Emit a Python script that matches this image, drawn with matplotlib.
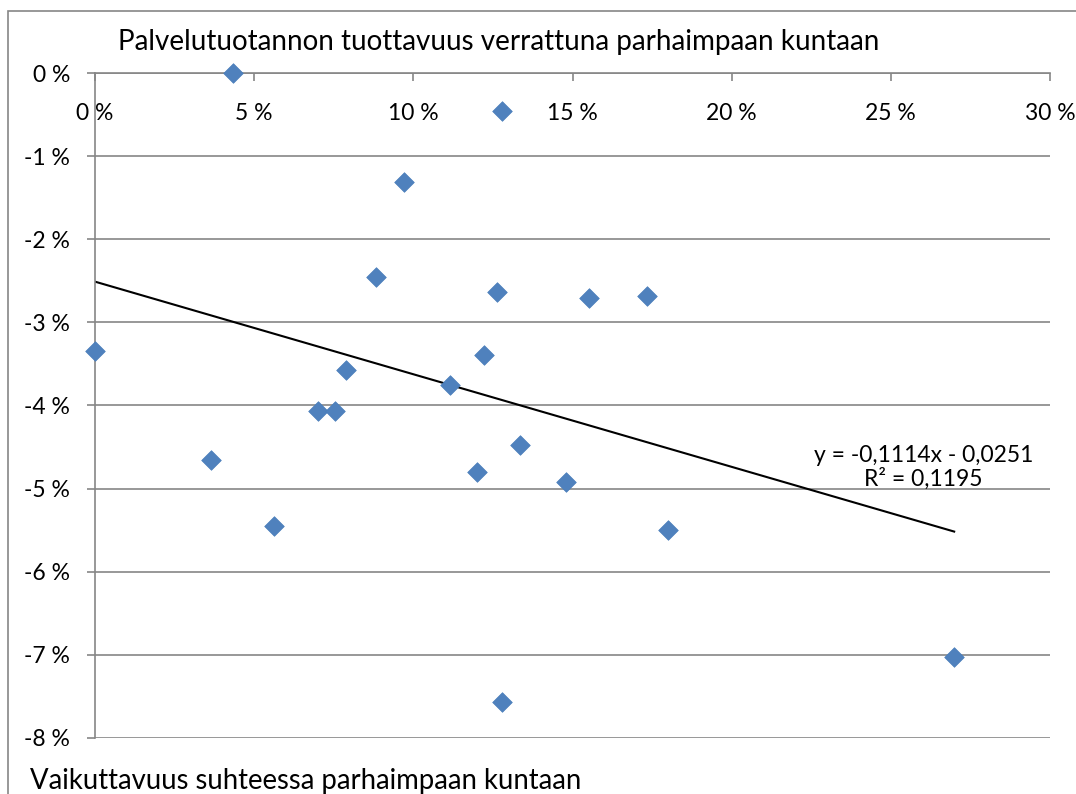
import matplotlib
matplotlib.use('Agg')
import matplotlib.pyplot as plt
import numpy as np
from matplotlib.patches import Rectangle
from matplotlib.ticker import FuncFormatter, MultipleLocator

plt.rcParams['font.family'] = ['Lato', 'DejaVu Sans']

TITLE = 'Palvelutuotannon tuottavuus verrattuna parhaimpaan kuntaan'
XLABEL = 'Vaikuttavuus suhteessa parhaimpaan kuntaan'

# effectiveness (x) and productivity (y), as fractions
vaikuttavuus = [0.0434, 0.1279, 0.0971, 0.0883, 0.1263, 0.1552, 0.1734,
                0.0000, 0.1222, 0.0789, 0.1115, 0.0700, 0.0754, 0.1335,
                0.0364, 0.1200, 0.1480, 0.0562, 0.1800, 0.2699, 0.1279]
tuottavuus = [0.0000, -0.0046, -0.0131, -0.0245, -0.0263, -0.0271, -0.0268,
              -0.0335, -0.0339, -0.0357, -0.0375, -0.0407, -0.0407, -0.0447,
              -0.0466, -0.0480, -0.0492, -0.0545, -0.0550, -0.0702, -0.0757]

# linear trend as reported by the spreadsheet
SLOPE = -0.1114
INTERCEPT = -0.0251
R2 = 0.1195

GRID = '#868686'
BLUE = '#4F81BD'

fig = plt.figure(figsize=(10.76, 7.94), dpi=100)
fig.add_artist(Rectangle((8 / 1076, -0.1), 2, 1 - 11 / 794 + 0.1,
                         transform=fig.transFigure, fill=False,
                         edgecolor=GRID, lw=1.2))
ax = fig.add_axes([95 / 1076, 56 / 794, 955 / 1076, 665 / 794])

ax.scatter(vaikuttavuus, tuottavuus, marker='D', s=100, color=BLUE,
           edgecolors='#4A7EBB', linewidths=0.5, zorder=3, clip_on=False)

xs = np.array([min(vaikuttavuus), max(vaikuttavuus)])
ax.plot(xs, SLOPE * xs + INTERCEPT, color='black', lw=1.5, zorder=2)
ax.text(0.2603, -0.0475,
        f'y = {SLOPE:.4f}x - {abs(INTERCEPT):.4f}'.replace('.', ',')
        + f'\nR² = {R2:.4f}'.replace('.', ','),
        ha='center', va='center', multialignment='center', fontsize=16.5,
        linespacing=1.1)

ax.set_xlim(0, 0.30)
ax.set_ylim(-0.08, 0)
ax.xaxis.set_major_locator(MultipleLocator(0.05))
ax.yaxis.set_major_locator(MultipleLocator(0.01))
pct = FuncFormatter(lambda v, _: f'{v * 100:.0f} %')
ax.xaxis.set_major_formatter(pct)
ax.yaxis.set_major_formatter(pct)

ax.yaxis.grid(True, color=GRID, lw=1.2)
ax.set_axisbelow(True)
for side in ('right', 'bottom'):
    ax.spines[side].set_visible(False)
for side in ('left', 'top'):
    ax.spines[side].set_color(GRID)
    ax.spines[side].set_linewidth(1.2)

ax.tick_params(axis='x', top=True, bottom=False, labeltop=True,
               labelbottom=False, direction='in', length=6, width=1.2,
               color=GRID, pad=-37, labelsize=16.5)
ax.tick_params(axis='y', direction='out', length=6, width=1.2, color=GRID,
               pad=12, labelsize=16.5)

fig.text(118 / 1076, 1 - 42 / 794, TITLE, ha='left', va='center',
         fontsize=20)
fig.text(30 / 1076, 1 - 781 / 794, XLABEL, ha='left', va='center',
         fontsize=19.8)

fig.savefig('out.png', dpi=100)
